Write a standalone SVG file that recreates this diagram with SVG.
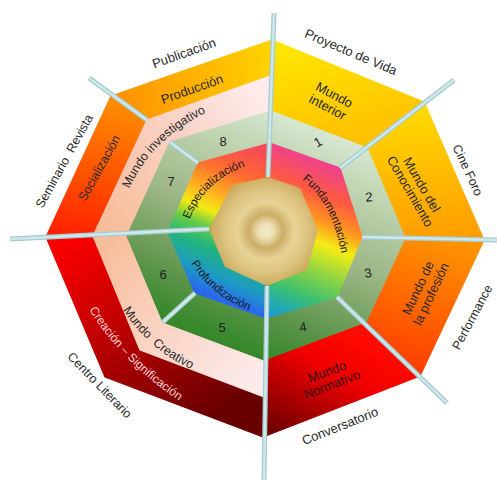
<svg xmlns="http://www.w3.org/2000/svg" width="497" height="481" viewBox="0 0 497 481">
<style>
  text { font-family: "Liberation Sans", Arial, sans-serif; fill: #2a2a2a; }
  .lbl { font-size: 13px; text-anchor: middle; }
  .sm { font-size: 12.5px; text-anchor: middle; }
  .num { font-size: 13px; text-anchor: middle; fill: #222; }
  .rb { font-size: 11.5px; fill: #1a1a1a; }
  .dv1 { stroke: #A6CBCF; stroke-width: 5; fill: none; }
  .dv2 { stroke: #CFE8EA; stroke-width: 2.4; fill: none; }
  .sec { stroke-width: 1.2; stroke-linejoin: round; }
</style>
<defs>
  <linearGradient id="gS1" gradientUnits="userSpaceOnUse" x1="300" y1="45" x2="320" y2="140">
    <stop offset="0" stop-color="#FFE600"/><stop offset="1" stop-color="#FFC200"/>
  </linearGradient>
  <linearGradient id="gS2" gradientUnits="userSpaceOnUse" x1="430" y1="110" x2="440" y2="240">
    <stop offset="0" stop-color="#FFD800"/><stop offset="1" stop-color="#FF9C00"/>
  </linearGradient>
  <linearGradient id="gS3" gradientUnits="userSpaceOnUse" x1="440" y1="240" x2="400" y2="372">
    <stop offset="0" stop-color="#FF9200"/><stop offset="1" stop-color="#FF3A00"/>
  </linearGradient>
  <linearGradient id="gS4" gradientUnits="userSpaceOnUse" x1="350" y1="330" x2="290" y2="440">
    <stop offset="0" stop-color="#FF0A00"/><stop offset="0.35" stop-color="#F00000"/><stop offset="1" stop-color="#700000"/>
  </linearGradient>
  <linearGradient id="gProd" gradientUnits="userSpaceOnUse" x1="270" y1="60" x2="115" y2="100">
    <stop offset="0" stop-color="#FFD200"/><stop offset="1" stop-color="#FF9000"/>
  </linearGradient>
  <linearGradient id="gSoc" gradientUnits="userSpaceOnUse" x1="100" y1="100" x2="70" y2="237">
    <stop offset="0" stop-color="#FF8C00"/><stop offset="1" stop-color="#FF2000"/>
  </linearGradient>
  <linearGradient id="gCre" gradientUnits="userSpaceOnUse" x1="70" y1="240" x2="190" y2="430">
    <stop offset="0" stop-color="#FA0000"/><stop offset="0.4" stop-color="#C40000"/><stop offset="1" stop-color="#680000"/>
  </linearGradient>
  <linearGradient id="gInv" gradientUnits="userSpaceOnUse" x1="255" y1="90" x2="105" y2="215">
    <stop offset="0" stop-color="#FDEBEB"/><stop offset="0.4" stop-color="#F9D4C8"/><stop offset="1" stop-color="#F8BE9C"/>
  </linearGradient>
  <linearGradient id="gCrea" gradientUnits="userSpaceOnUse" x1="105" y1="250" x2="245" y2="385">
    <stop offset="0" stop-color="#F8BE9C"/><stop offset="0.6" stop-color="#FAD8CC"/><stop offset="1" stop-color="#FCEAEA"/>
  </linearGradient>
  <linearGradient id="gGreen" gradientUnits="userSpaceOnUse" x1="309.3" y1="125.3" x2="219" y2="347.8">
    <stop offset="0" stop-color="#D6E8D2"/><stop offset="0.146" stop-color="#C4D8B6"/><stop offset="0.479" stop-color="#9CB686"/><stop offset="0.79" stop-color="#5C944A"/><stop offset="0.94" stop-color="#3A8A2E"/><stop offset="1" stop-color="#358428"/>
  </linearGradient>
  <linearGradient id="gRbR" gradientUnits="userSpaceOnUse" x1="309.3" y1="125.3" x2="219" y2="347.8">
    <stop offset="0.083" stop-color="#EC3AA0"/><stop offset="0.158" stop-color="#F24878"/><stop offset="0.25" stop-color="#FF5A40"/><stop offset="0.35" stop-color="#FF9420"/><stop offset="0.4375" stop-color="#F4EC14"/><stop offset="0.558" stop-color="#8CD444"/><stop offset="0.667" stop-color="#3CC070"/><stop offset="0.75" stop-color="#20A8B4"/><stop offset="0.8125" stop-color="#2090E0"/>
  </linearGradient>
  <linearGradient id="gRbL" gradientUnits="userSpaceOnUse" x1="309.3" y1="125.3" x2="219" y2="347.8">
    <stop offset="0.167" stop-color="#F84858"/><stop offset="0.3" stop-color="#FF6A30"/><stop offset="0.408" stop-color="#FFB020"/><stop offset="0.483" stop-color="#F2EA14"/><stop offset="0.55" stop-color="#64CC48"/><stop offset="0.629" stop-color="#22B47E"/><stop offset="0.729" stop-color="#1C9AC4"/><stop offset="0.8125" stop-color="#2A66EE"/>
  </linearGradient>
  <radialGradient id="gGold" gradientUnits="userSpaceOnUse" cx="266" cy="231" r="57">
    <stop offset="0" stop-color="#F5ECCC"/><stop offset="0.13" stop-color="#EEE0B4"/><stop offset="0.3" stop-color="#CBAD66"/><stop offset="0.5" stop-color="#E7D396"/><stop offset="0.75" stop-color="#DCC27E"/><stop offset="1" stop-color="#C9A658"/>
  </radialGradient>
  <path id="pInv" d="M 126,197 Q 148,138 214,109"/>
  <path id="pCreat" d="M 116,299 Q 147,353 203,374"/>
  <path id="pCreSig" d="M 78,290 Q 115,363 198,413"/>
  <path id="pFund" d="M 297,176 Q 334,200 342,260"/>
  <path id="pEsp" d="M 187,227 Q 201,179 253,164"/>
  <path id="pProf" d="M 186,254 Q 208,298 259,314"/>
</defs>

<g id="outer-band">
  <polygon id="sec-mundo-interior" class="sec" fill="url(#gS1)" stroke="url(#gS1)" points="272,40 424,102 367,148 271,111"/>
  <polygon id="sec-mundo-conocimiento" class="sec" fill="url(#gS2)" stroke="url(#gS2)" points="424,102 484,240 405,238 367,148"/>
  <polygon id="sec-mundo-profesion" class="sec" fill="url(#gS3)" stroke="url(#gS3)" points="484,240 420,376 366,322 405,238"/>
  <polygon id="sec-mundo-normativo" class="sec" fill="url(#gS4)" stroke="url(#gS4)" points="420,376 263,437 264,360 366,322"/>
  <polygon id="sec-produccion" class="sec" fill="url(#gProd)" stroke="url(#gProd)" points="111,96 272,40 271,111 170,142"/>
  <polygon id="sec-socializacion" class="sec" fill="url(#gSoc)" stroke="url(#gSoc)" points="111,96 170,142 127,236 46,237"/>
  <polygon id="sec-creacion" class="sec" fill="url(#gCre)" stroke="url(#gCre)" points="46,237 127,236 163,322 264,360 263,437 105,377"/>
</g>

<g id="mundo-band">
  <polygon id="mundo-investigativo" class="sec" fill="url(#gInv)" stroke="url(#gInv)" points="270,76 147,120 93,236 127,236 170,142 271,111"/>
  <polygon id="mundo-creativo" class="sec" fill="url(#gCrea)" stroke="url(#gCrea)" points="93,236 140,350 264,397 264,360 163,322 127,236"/>
</g>

<g id="green-ring">
  <polygon class="sec" fill="url(#gGreen)" stroke="url(#gGreen)" points="271,111 367,148 405,238 366,322 264,360 163,322 127,236 170,142"/>
</g>

<g id="rainbow-ring">
  <polygon class="sec" fill="url(#gRbR)" stroke="url(#gRbR)" points="270,143 340,168 362,237 337,297 266,318"/>
  <polygon class="sec" fill="url(#gRbL)" stroke="url(#gRbL)" points="270,143 266,318 195,293 168,232 198,163"/>
</g>

<g id="core">
  <polygon fill="url(#gGold)" points="268,177 300,188 318,230 307,270 267,286 225,267 209,229 232,185"/>
</g>

<g id="dividers">
  <g class="dv1">
    <line x1="274" y1="13" x2="268" y2="177"/>
    <line x1="454" y1="80" x2="340" y2="168"/>
    <line x1="497" y1="240" x2="362" y2="237"/>
    <line x1="447" y1="403" x2="337" y2="297"/>
    <line x1="264" y1="480" x2="267" y2="286"/>
    <line x1="163" y1="322" x2="195" y2="293"/>
    <line x1="10" y1="239" x2="209" y2="229"/>
    <line x1="89" y1="78" x2="147" y2="120"/>
    <line x1="170" y1="142" x2="198" y2="163"/>
  </g>
  <g class="dv2">
    <line x1="274" y1="13" x2="268" y2="177"/>
    <line x1="454" y1="80" x2="340" y2="168"/>
    <line x1="497" y1="240" x2="362" y2="237"/>
    <line x1="447" y1="403" x2="337" y2="297"/>
    <line x1="264" y1="480" x2="267" y2="286"/>
    <line x1="163" y1="322" x2="195" y2="293"/>
    <line x1="10" y1="239" x2="209" y2="229"/>
    <line x1="89" y1="78" x2="147" y2="120"/>
    <line x1="170" y1="142" x2="198" y2="163"/>
  </g>
</g>

<g id="labels-outer">
  <text class="lbl" transform="translate(184,53) rotate(-19.6)" y="4.5">Publicación</text>
  <text class="lbl" transform="translate(351,52) rotate(23)" y="4.5">Proyecto de Vida</text>
  <text class="sm" transform="translate(468,170) rotate(65)" y="4.5">Cine Foro</text>
  <text class="sm" transform="translate(472,317) rotate(-62)" y="4.5">Performance</text>
  <text class="lbl" transform="translate(340,426) rotate(-22)" y="4.5">Conversatorio</text>
  <text class="sm" transform="translate(100,385) rotate(46)" y="4.5">Centro Literario</text>
  <text class="sm" transform="translate(64,161) rotate(-61)" y="4.5">Seminario&#160; Revista</text>
</g>

<g id="labels-band">
  <text class="lbl" transform="translate(192,89) rotate(-19.6)" y="4.5">Producción</text>
  <text class="sm" transform="translate(99,168) rotate(-61)" y="4.5">Socialización</text>
  <text class="lbl" transform="translate(331,101) rotate(28)"><tspan x="0" y="-2.5">Mundo</tspan><tspan x="0" y="11.5">interior</tspan></text>
  <text class="lbl" transform="translate(416,188) rotate(60)"><tspan x="0" y="-2.2">Mundo del</tspan><tspan x="0" y="11.2">Conocimiento</tspan></text>
  <text class="lbl" transform="translate(424.5,291) rotate(-65)"><tspan x="0" y="-2.6">Mundo de</tspan><tspan x="0" y="11.6">la profesión</tspan></text>
  <text class="lbl" transform="translate(329.5,378) rotate(-21)" style="fill:#3a0505"><tspan x="0" y="-2.3">Mundo</tspan><tspan x="0" y="11.3">Normativo</tspan></text>
  <text style="font-size:12.5px"><textPath href="#pInv" startOffset="50%" text-anchor="middle">Mundo investigativo</textPath></text>
  <text style="font-size:12.5px"><textPath href="#pCreat" startOffset="50%" text-anchor="middle">Mundo&#160; Creativo</textPath></text>
  <text style="font-size:12px;fill:#FFD2D2"><textPath href="#pCreSig" startOffset="50%" text-anchor="middle">Creación – Significación</textPath></text>
</g>

<g id="labels-numbers">
  <text class="num" transform="translate(318,142) rotate(-30)" y="4.5">1</text>
  <text class="num" transform="translate(369,197) rotate(-5)" y="4.5">2</text>
  <text class="num" transform="translate(368,273) rotate(-10)" y="4.5">3</text>
  <text class="num" transform="translate(303,327) rotate(-10)" y="4.5">4</text>
  <text class="num" x="222" y="331.5">5</text>
  <text class="num" x="163" y="278.5">6</text>
  <text class="num" x="171" y="185.5">7</text>
  <text class="num" x="223" y="145.5">8</text>
</g>

<g id="labels-rainbow">
  <text class="rb"><textPath href="#pFund" startOffset="50%" text-anchor="middle">Fundamentación</textPath></text>
  <text class="rb"><textPath href="#pEsp" startOffset="50%" text-anchor="middle">Especialización</textPath></text>
  <text class="rb"><textPath href="#pProf" startOffset="50%" text-anchor="middle">Profundización</textPath></text>
</g>
</svg>
